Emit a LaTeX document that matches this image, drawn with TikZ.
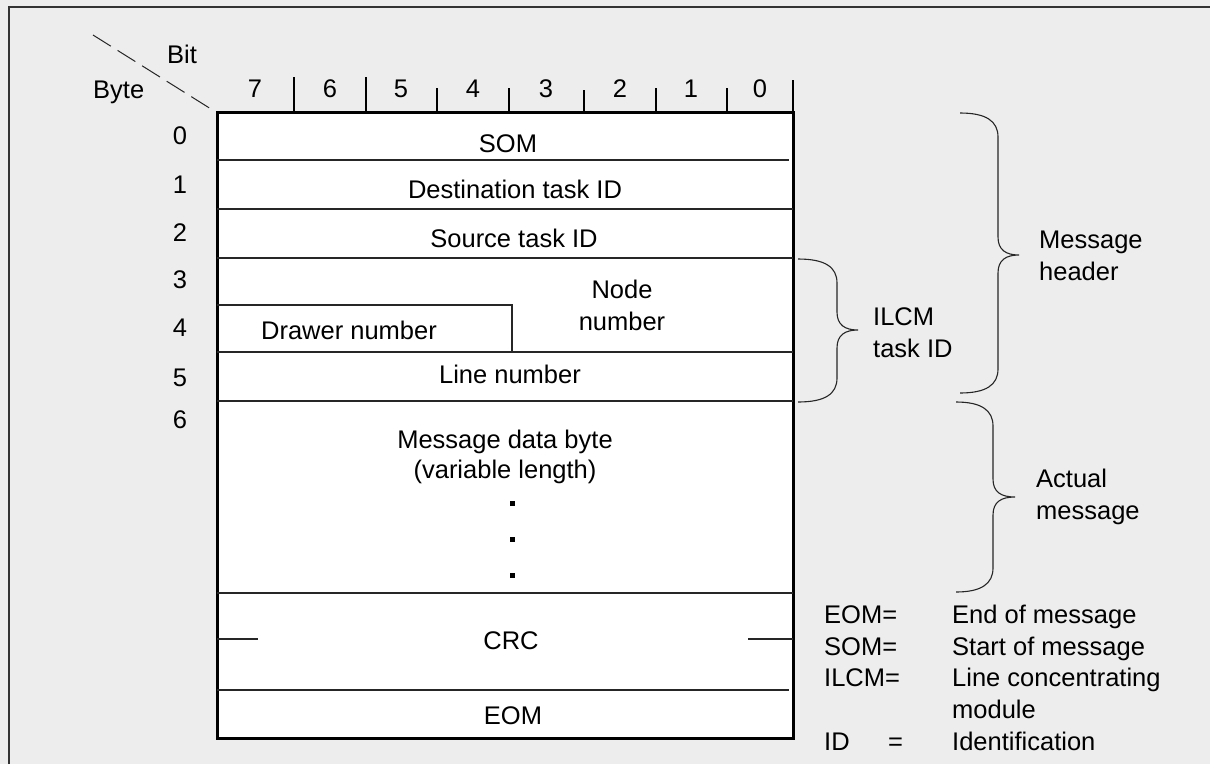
\documentclass[tikz,border=0pt]{standalone}
\usepackage{fontspec}
\setmainfont{Liberation Sans}
\begin{document}
\begin{tikzpicture}[
  x={(1pt,0)}, y={(0,-1pt)},
  every node/.style={inner sep=0pt, font=\fontsize{25.5}{32}\selectfont},
  lbl/.style={anchor=base},
  lblw/.style={anchor=base west},
  frameline/.style={draw=black!80, line width=2pt},
  boxline/.style={draw=black, line width=3pt},
  rowline/.style={draw=black!85, line width=1.1pt},
  tick/.style={draw=black, line width=2.6pt},
  bracel/.style={draw=black!85, line width=1.1pt},
  dotmark/.style={fill=black, minimum size=5pt, rectangle, inner sep=0pt}
]
\newcommand\curlybrace[6]{% start x, top y, spine x, tip x, tip y, bottom y
  \draw[bracel] (#1,#2) .. controls (#3-12,#2) and (#3,#2+8) .. (#3,#2+24)
    -- (#3,#5-18) .. controls (#3,#5-5) and (#3+8,#5) .. (#4,#5)
    .. controls (#3+8,#5) and (#3,#5+5) .. (#3,#5+18)
    -- (#3,#6-24) .. controls (#3,#6-8) and (#3-12,#6) .. (#1,#6);}

% page and background
\useasboundingbox (0,0) rectangle (1210,764);
\fill[black!7] (0,0) rectangle (1210,764);
\draw[frameline] (9,764) -- (9,7) -- (1210,7);

% header: bit / byte corner
\draw[black!85, line width=1pt, dash pattern=on 21pt off 8pt] (93,35) -- (211,109);
\node[lblw] (bit) at (167,63) {Bit};
\node[lblw] (byte) at (93,98) {Byte};

% bit numbers and separators
\foreach \b/\cx in {7/255,6/330,5/401,4/473,3/546,2/620,1/691,0/760}
  \node[lbl] (bit\b) at (\cx,97) {\b};
\foreach \tx/\ty in {294/77,366/77,437/88,509/88,584/90,656/88,727/88}
  \draw[tick] (\tx,\ty) -- (\tx,112);
\draw[tick] (793,80) -- (793,112);

% frame
\draw[boxline, fill=white] (217,112) rectangle (793,738);

% row separators
\draw[rowline] (217,160) -- (789,160);
\draw[rowline] (217,209) -- (793,209);
\draw[rowline] (217,258) -- (793,258);
\draw[rowline] (217,305) -- (512,305) -- (512,352);
\draw[rowline] (217,352) -- (793,352);
\draw[rowline] (217,401) -- (793,401);
\draw[rowline] (217,593) -- (793,593);
\draw[rowline] (217,639) -- (258,639);
\draw[rowline] (748,639) -- (793,639);
\draw[rowline] (217,690) -- (789,690);

% byte numbers
\foreach \n/\by in {0/144,1/193,2/241,3/288,4/336,5/386,6/428}
  \node[lbl] (byte\n) at (180,\by) {\n};

% field contents
\node[lbl] (som) at (508,152) {SOM};
\node[lbl] (dest) at (515,198) {Destination task ID};
\node[lbl] (src) at (514,247) {Source task ID};
\node[lbl] (node1) at (622,298) {Node};
\node[lbl] (node2) at (622,330) {number};
\node[lbl] (drawer) at (349,339) {Drawer number};
\node[lbl] (line) at (510,383) {Line number};
\node[lbl] (data1) at (505,448) {Message data byte};
\node[lbl] (data2) at (505,478) {(variable length)};
\node[dotmark] (dot1) at (512,503) {};
\node[dotmark] (dot2) at (512,539) {};
\node[dotmark] (dot3) at (512,575) {};
\node[lbl] (crc) at (511,649) {CRC};
\node[lbl] (eom) at (513,724) {EOM};

% braces and their labels
\curlybrace{798}{259}{837}{858}{330}{402}
\curlybrace{960}{113}{998}{1019}{255}{393}
\curlybrace{956}{402}{993}{1015}{497}{592}
\node[lblw] (ilcm1) at (873,325) {ILCM};
\node[lblw] (ilcm2) at (873,357) {task ID};
\node[lblw] (hdr1) at (1039,248) {Message};
\node[lblw] (hdr2) at (1039,280) {header};
\node[lblw] (act1) at (1036,487) {Actual};
\node[lblw] (act2) at (1036,519) {message};

% legend
\node[lblw] (k1) at (824,623) {EOM=};
\node[lblw] (v1) at (952,623) {End of message};
\node[lblw] (k2) at (824,655) {SOM=};
\node[lblw] (v2) at (952,655) {Start of message};
\node[lblw] (k3) at (824,686) {ILCM=};
\node[lblw] (v3) at (952,686) {Line concentrating};
\node[lblw] (v3b) at (952,718) {module};
\node[lblw] (k4) at (824,750) {ID};
\node[lblw] (k4eq) at (888,750) {=};
\node[lblw] (v4) at (952,750) {Identification};
\end{tikzpicture}
\end{document}
